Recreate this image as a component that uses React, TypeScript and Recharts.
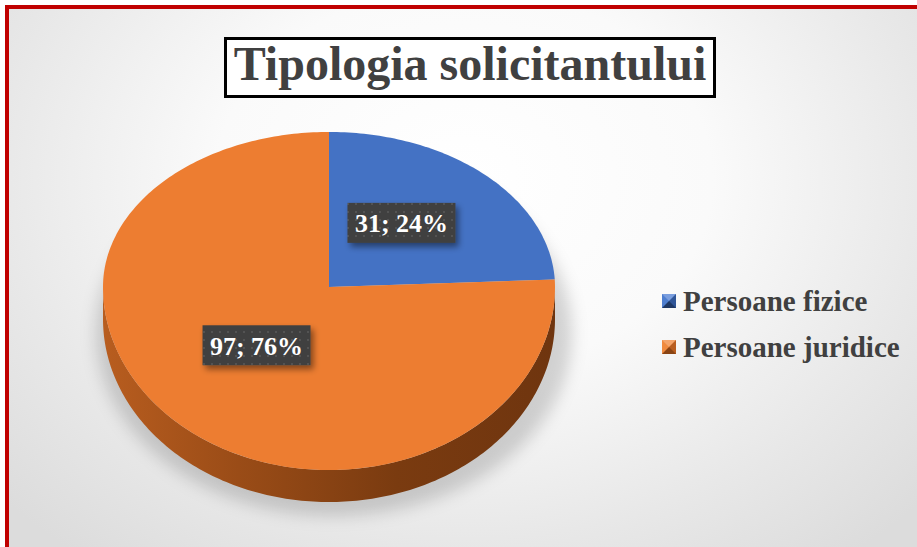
import React from 'react';
import { PieChart, Pie, Cell, Legend } from 'recharts';

// data
const categories = ['Persoane fizice', 'Persoane juridice'];
const counts = [31, 97];
const topColors = ['#4472C4', '#ED7D31'];
const wallStops = [
  ['#3a62a8', '#2d4f8c', '#233f72', '#203a69'],
  ['#b85d1f', '#9a4c17', '#7a3b10', '#6f350f'],
];
const legendPyramid = [
  ['#7a9ede', '#2f5597', '#1f3864', '#4f7fd0'],
  ['#f4a46a', '#b85d1f', '#8a4414', '#f08a3e'],
];

const data = categories.map((name, i) => ({ name, value: counts[i] }));

const RAD = Math.PI / 180;
const TILT_TOP = 0.686; // far half looks flatter (perspective)
const TILT_BOTTOM = 0.81;
const DEPTH = 32;

const pt = (cx: number, cy: number, r: number, a: number, dz = 0) => {
  const s = -Math.sin(a * RAD);
  const ry = s < 0 ? r * TILT_TOP : r * TILT_BOTTOM;
  return [cx + r * Math.cos(a * RAD), cy + ry * s + dz];
};

const arc = (cx: number, cy: number, r: number, a0: number, a1: number, dz = 0) => {
  const n = Math.max(2, Math.ceil(Math.abs(a1 - a0)));
  const out: number[][] = [];
  for (let k = 0; k <= n; k++) out.push(pt(cx, cy, r, a0 + ((a1 - a0) * k) / n, dz));
  return out;
};

const toPath = (pts: number[][]) => pts.map((p, i) => `${i ? 'L' : 'M'}${p[0].toFixed(2)},${p[1].toFixed(2)}`).join(' ');

const SliceShape = (props: any) => {
  const { cx, cy, outerRadius, startAngle, endAngle } = props;
  const name = props.name ?? props.payload?.name;
  const idx = Math.max(0, categories.indexOf(name));
  const r = outerRadius;
  const lo0 = Math.min(startAngle, endAngle);
  const hi0 = Math.max(startAngle, endAngle);
  const walls: string[] = [];
  // visible side wall = front half of the rim
  for (const k of [-720, -360, 0, 360]) {
    const lo = Math.max(lo0, -180 + k);
    const hi = Math.min(hi0, k);
    if (hi > lo) {
      const upper = arc(cx, cy, r, lo, hi);
      const lower = arc(cx, cy, r, hi, lo, DEPTH);
      walls.push(toPath([...upper, ...lower]) + ' Z');
    }
  }
  const top = arc(cx, cy, r, startAngle, endAngle);
  const topD = `M${cx},${cy} ` + toPath(top).replace(/^M/, 'L') + ' Z';
  return (
    <g>
      {walls.map((d, i) => (
        <path key={i} d={d} fill={`url(#wall-${idx})`} />
      ))}
      <path d={topD} fill={topColors[idx]} />
    </g>
  );
};

const renderLabel = (props: any) => {
  const { cx, cy, midAngle, outerRadius, value, percent } = props;
  const s = -Math.sin(midAngle * RAD);
  const x = cx + outerRadius * 0.465 * Math.cos(midAngle * RAD);
  const y = cy + outerRadius * (s < 0 ? TILT_TOP : TILT_BOTTOM) * 0.5 * s - 8;
  const w = 108;
  const h = 40;
  return (
    <g>
      <rect x={x - w / 2} y={y - h / 2} width={w} height={h} fill="url(#dots)" filter="url(#lblShadow)" />
      <text
        x={x}
        y={y}
        dy="0.36em"
        textAnchor="middle"
        fill="#ffffff"
        fontFamily="'Liberation Serif', serif"
        fontWeight="bold"
        fontSize={26}
      >
        {`${value}; ${Math.round(percent * 100)}%`}
      </text>
    </g>
  );
};

const renderLegend = (props: any) => {
  const items = props.payload || [];
  return (
    <div>
      {items.map((entry: any) => {
        const i = Math.max(0, categories.indexOf(entry.value));
        const c = legendPyramid[i];
        return (
          <div key={entry.value} style={{ display: 'flex', alignItems: 'center', height: 46 }}>
            <span
              style={{
                display: 'inline-block',
                width: 0,
                height: 0,
                borderStyle: 'solid',
                borderWidth: 7,
                borderColor: `${c[0]} ${c[1]} ${c[2]} ${c[3]}`,
                marginRight: 7,
                flex: 'none',
              }}
            />
            <span
              style={{
                fontFamily: "'Liberation Serif', serif",
                fontWeight: 'bold',
                fontSize: 29,
                color: '#404040',
                whiteSpace: 'nowrap',
              }}
            >
              {entry.value}
            </span>
          </div>
        );
      })}
    </div>
  );
};

export default function App() {
  return (
    <div style={{ position: 'absolute', left: 0, top: 0, width: 917, height: 547, overflow: 'hidden', background: '#ffffff' }}>
      <div
        style={{
          position: 'absolute',
          left: 5,
          top: 5,
          width: 1000,
          height: 1000,
          border: '4px solid #C00000',
          background: 'radial-gradient(ellipse 620px 480px at 455px 170px, #ffffff 0%, #fafafa 40%, #e8e8e8 75%, #dcdcdc 100%)',
        }}
      />
      <div
        style={{
          position: 'absolute',
          left: 96,
          top: 150,
          width: 476,
          height: 366,
          borderRadius: '50%',
          background: 'rgba(0,0,0,0.16)',
          filter: 'blur(8px)',
        }}
      />
      <div style={{ position: 'absolute', left: 0, top: 0 }}>
        <PieChart width={917} height={547} margin={{ top: 0, right: 0, bottom: 0, left: 0 }}>
          <defs>
            {wallStops.map((st, i) => (
              <linearGradient key={i} id={`wall-${i}`} gradientUnits="userSpaceOnUse" x1={103} y1={0} x2={555} y2={0}>
                <stop offset="0%" stopColor={st[0]} />
                <stop offset="30%" stopColor={st[1]} />
                <stop offset="65%" stopColor={st[2]} />
                <stop offset="100%" stopColor={st[3]} />
              </linearGradient>
            ))}
            <pattern id="dots" width={8} height={8} patternUnits="userSpaceOnUse">
              <rect width={8} height={8} fill="#3f3f3f" />
              <circle cx={4} cy={4} r={1.1} fill="#585858" />
            </pattern>
            <filter id="lblShadow" x="-20%" y="-30%" width="150%" height="180%">
              <feDropShadow dx={3} dy={4} stdDeviation={3} floodColor="#000" floodOpacity={0.45} />
            </filter>
          </defs>
          <Pie
            data={data}
            dataKey="value"
            nameKey="name"
            cx={329}
            cy={287}
            outerRadius={226}
            startAngle={90}
            endAngle={-270}
            stroke="none"
            shape={SliceShape}
            label={renderLabel}
            labelLine={false}
            isAnimationActive={false}
          >
            {data.map((d, i) => (
              <Cell key={d.name} fill={topColors[i]} />
            ))}
          </Pie>
          <Legend
            layout="vertical"
            verticalAlign="middle"
            align="right"
            content={renderLegend}
            wrapperStyle={{ left: 662, top: 278, right: 'auto', width: 255 }}
          />
        </PieChart>
      </div>
      <div
        style={{
          position: 'absolute',
          left: 224,
          top: 37,
          width: 492,
          height: 61,
          boxSizing: 'border-box',
          border: '3px solid #000000',
          background: '#ffffff',
          textAlign: 'center',
          fontFamily: "'Liberation Serif', serif",
          fontWeight: 'bold',
          fontSize: 48,
          lineHeight: '48px',
          color: '#404040',
          whiteSpace: 'nowrap',
        }}
      >
        Tipologia solicitantului
      </div>
    </div>
  );
}
